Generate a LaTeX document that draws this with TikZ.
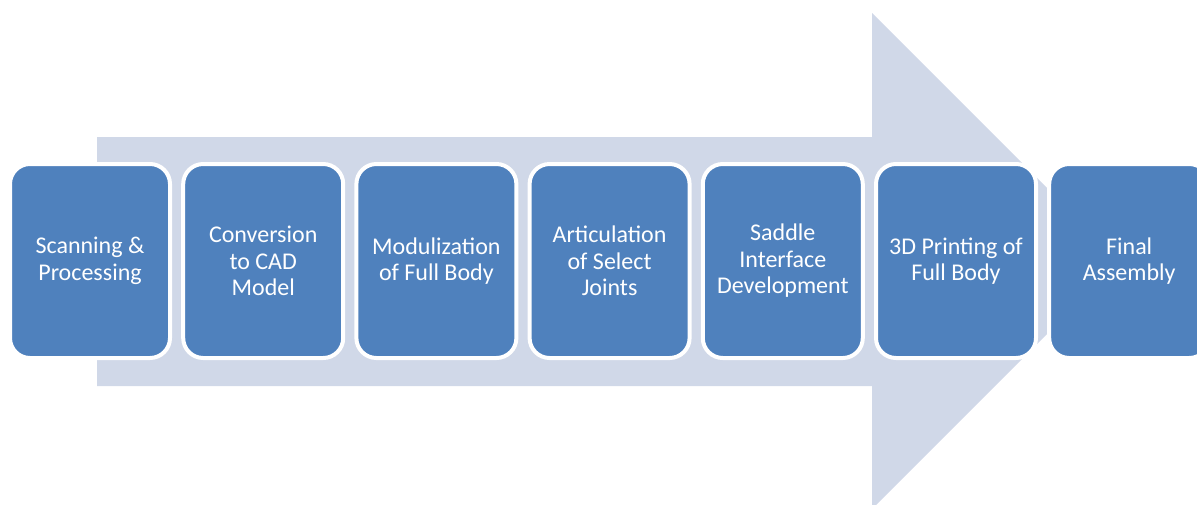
\documentclass[tikz,border=0pt]{standalone}
\usepackage{fontspec}
\setmainfont{Carlito}
\definecolor{boxblue}{HTML}{4F81BD}
\definecolor{arrowblue}{HTML}{D0D8E8}
\tikzset{
  stepbox/.style={rectangle, rounded corners=20pt, fill=boxblue, draw=white, line width=4pt,
    minimum width=160pt, minimum height=194pt, text=white, align=center, inner sep=0pt,
    font=\fontsize{24pt}{26.5pt}\selectfont}
}
\begin{document}
\begin{tikzpicture}[x=1pt,y=-1pt]
\useasboundingbox (0,0) rectangle (1197,504);
\clip (0,0) rectangle (1197,504);
\fill[arrowblue] (97,137) -- (872,137) -- (872,13) -- (1120,261) -- (872,509) -- (872,386) -- (97,386) -- cycle;
\node[stepbox] (b1) at (90,261) {Scanning \&\\Processing};
\node[stepbox] (b2) at (263.2,261) {Conversion\\to CAD\\Model};
\node[stepbox] (b3) at (436.4,261) {Modulization\\of Full Body};
\node[stepbox] (b4) at (609.6,261) {Articulation\\of Select\\Joints};
\node[stepbox] (b5) at (782.8,261) {Saddle\\Interface\\Development};
\node[stepbox] (b6) at (956,261) {3D Printing of\\Full Body};
\node[stepbox] (b7) at (1129.2,261) {Final\\Assembly};
\end{tikzpicture}
\end{document}
